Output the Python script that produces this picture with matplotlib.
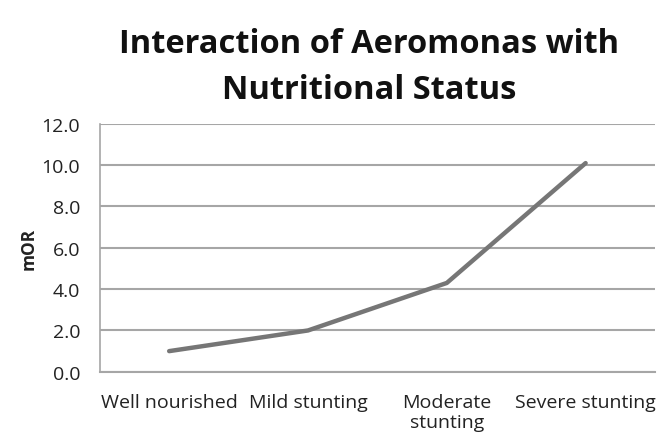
import matplotlib
matplotlib.use("Agg")
import matplotlib.pyplot as plt

categories = ["Well nourished", "Mild stunting", "Moderate\nstunting", "Severe stunting"]
mor_values = [1.0, 2.0, 4.3, 10.1]
yticks = [0.0, 2.0, 4.0, 6.0, 8.0, 10.0, 12.0]

plt.rcParams['font.family'] = ['Open Sans', 'DejaVu Sans']

fig = plt.figure(figsize=(6.65, 4.35), dpi=100)
ax = fig.add_axes([0.15, 0.143, 0.835, 0.570])

x = list(range(len(categories)))
ax.plot(x, mor_values, color='#767676', linewidth=3.2, solid_capstyle='round', zorder=3)

ax.set_xlim(-0.5, len(categories) - 0.5)
ax.set_ylim(0, 12)
ax.set_yticks(yticks)
ax.set_yticklabels([f"{v:.1f}" for v in yticks], fontsize=14, color='#222222')
ax.set_xticks(x)
ax.set_xticklabels(categories, fontsize=14, color='#222222', va='top', linespacing=1.15)
ax.tick_params(axis='both', length=0)
ax.tick_params(axis='y', pad=14)
ax.tick_params(axis='x', pad=15)

ax.grid(axis='y', color='#a6a6a6', linewidth=1.5)
ax.set_axisbelow(True)
for s in ['top', 'right']:
    ax.spines[s].set_visible(False)
ax.spines['left'].set_color('#a6a6a6')
ax.spines['left'].set_linewidth(1.2)
ax.spines['bottom'].set_color('#a6a6a6')
ax.spines['bottom'].set_linewidth(1.5)

ax.set_ylabel("mOR", fontsize=12.5, fontweight='bold', labelpad=3, color='#222222')

fig.text(0.555, 0.845, "Interaction of Aeromonas with\nNutritional Status", ha='center', va='center',
         fontsize=23.5, fontweight='bold', linespacing=1.5, color='#111111')

fig.savefig("out.png", dpi=100)
